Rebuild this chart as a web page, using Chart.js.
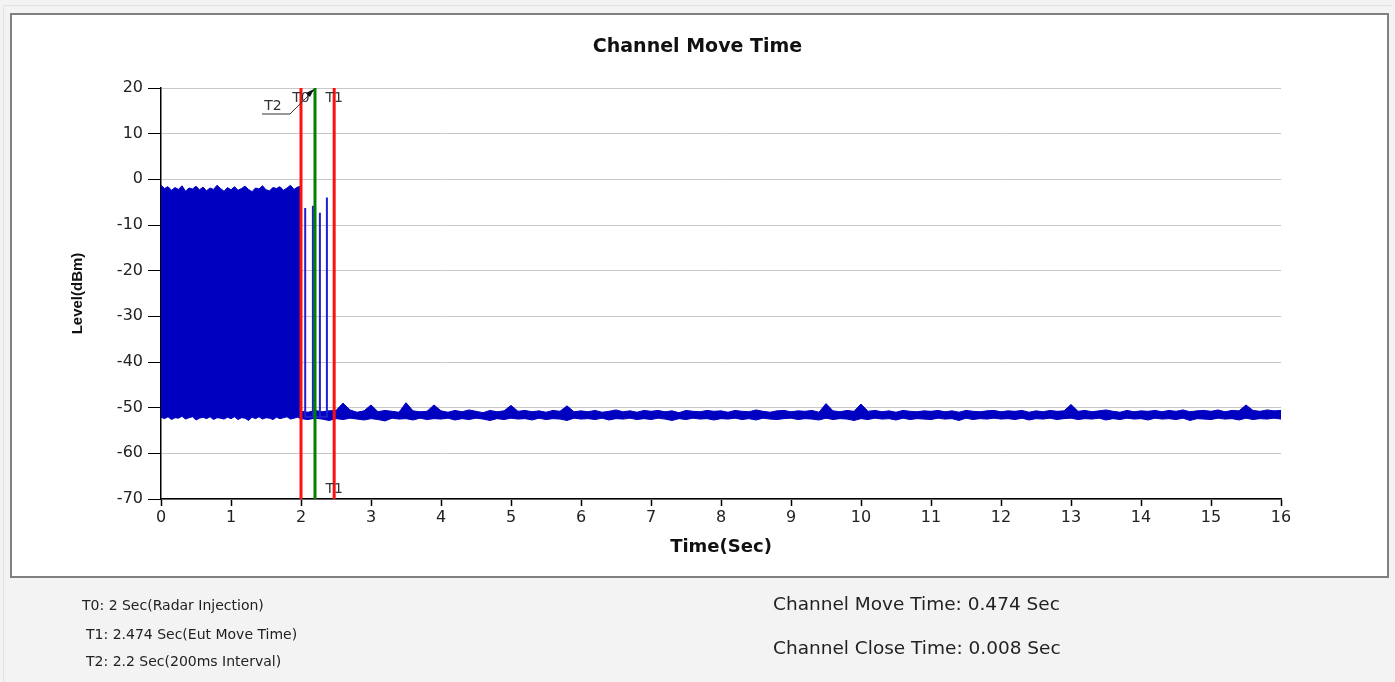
<!DOCTYPE html>
<html>

<head>
    <title>Channel Move Time</title>
    <script src="https://cdn.jsdelivr.net/npm/chart.js"></script>
    <style>
        body { margin: 0; background: #f3f3f3; font-family: "DejaVu Sans", sans-serif; }
        .page { position: relative; width: 1395px; height: 682px; overflow: hidden; }
        .frame { position: absolute; left: 3px; top: 5px; width: 1388px; height: 676px; border-left: 1px solid #e2e2e2; border-top: 1px solid #e2e2e2; }
        .box { position: absolute; left: 10px; top: 13px; width: 1379px; height: 565px; box-sizing: border-box; border: 2px solid #808080; background: #fff; }
        .wrap { position: absolute; left: 0; top: 0; width: 1395px; height: 682px; }
        .note { position: absolute; color: #222; white-space: nowrap; font-size: 14px; line-height: 20px; }
        .big { font-size: 18.5px; line-height: 24px; }
    </style>
</head>

<body>
    <div class="page">
        <div class="frame"></div>
        <div class="box"></div>
        <div class="wrap"><canvas id="chart"></canvas></div>
        <div class="note" style="left:82px; top:595px;">T0: 2 Sec(Radar Injection)</div>
        <div class="note" style="left:86px; top:624px;">T1: 2.474 Sec(Eut Move Time)</div>
        <div class="note" style="left:86px; top:651px;">T2: 2.2 Sec(200ms Interval)</div>
        <div class="note big" style="left:773px; top:592px;">Channel Move Time: 0.474 Sec</div>
        <div class="note big" style="left:773px; top:636px;">Channel Close Time: 0.008 Sec</div>
    </div>
    <script>
        // burst while radar is on (0 - 2 s): top / bottom of the trace
        var burstTime = [0, 0.05, 0.1, 0.15, 0.2, 0.25, 0.3, 0.35, 0.4, 0.45, 0.5, 0.55, 0.6, 0.65, 0.7, 0.75, 0.8, 0.85, 0.9, 0.95,
            1, 1.05, 1.1, 1.15, 1.2, 1.25, 1.3, 1.35, 1.4, 1.45, 1.5, 1.55, 1.6, 1.65, 1.7, 1.75, 1.8, 1.85, 1.9, 1.95, 2];
        var burstTop = [-1.3, -2.0, -1.6, -2.4, -1.8, -2.2, -1.4, -2.6, -1.9, -2.1, -1.5, -2.3, -1.7, -2.5, -1.9, -2.2, -1.3, -2.0, -2.6, -1.8,
            -2.3, -1.6, -2.4, -2.0, -1.5, -2.2, -2.7, -1.9, -2.1, -1.4, -2.3, -2.5, -1.8, -2.0, -1.6, -2.4, -1.9, -1.3, -2.2, -1.7, -1.5];
        var burstBottom = [-52.1, -52.4, -52.0, -52.6, -52.2, -52.3, -51.9, -52.5, -52.2, -52.0, -52.7, -52.3, -52.1, -52.4, -52.0, -52.6, -52.2, -52.3, -52.5, -52.1,
            -52.4, -52.0, -52.6, -52.2, -52.3, -52.8, -52.1, -52.4, -52.0, -52.5, -52.2, -52.3, -52.6, -52.1, -52.4, -52.2, -52.0, -52.5, -52.3, -52.1, -52.4];

        // noise floor after the radar (2 - 16 s)
        var noiseTime = [2, 2.1, 2.2, 2.3, 2.4, 2.5, 2.6, 2.7, 2.8, 2.9, 3, 3.1, 3.2, 3.3, 3.4, 3.5, 3.6, 3.7, 3.8, 3.9,
            4, 4.1, 4.2, 4.3, 4.4, 4.5, 4.6, 4.7, 4.8, 4.9, 5, 5.1, 5.2, 5.3, 5.4, 5.5, 5.6, 5.7, 5.8, 5.9,
            6, 6.1, 6.2, 6.3, 6.4, 6.5, 6.6, 6.7, 6.8, 6.9, 7, 7.1, 7.2, 7.3, 7.4, 7.5, 7.6, 7.7, 7.8, 7.9,
            8, 8.1, 8.2, 8.3, 8.4, 8.5, 8.6, 8.7, 8.8, 8.9, 9, 9.1, 9.2, 9.3, 9.4, 9.5, 9.6, 9.7, 9.8, 9.9,
            10, 10.1, 10.2, 10.3, 10.4, 10.5, 10.6, 10.7, 10.8, 10.9, 11, 11.1, 11.2, 11.3, 11.4, 11.5, 11.6, 11.7, 11.8, 11.9,
            12, 12.1, 12.2, 12.3, 12.4, 12.5, 12.6, 12.7, 12.8, 12.9, 13, 13.1, 13.2, 13.3, 13.4, 13.5, 13.6, 13.7, 13.8, 13.9,
            14, 14.1, 14.2, 14.3, 14.4, 14.5, 14.6, 14.7, 14.8, 14.9, 15, 15.1, 15.2, 15.3, 15.4, 15.5, 15.6, 15.7, 15.8, 15.9, 16];
        var noiseTop = [-50.8, -51.0, -50.6, -50.9, -50.7, -50.6, -49.0, -50.5, -51.0, -50.7,
            -49.4, -50.9, -50.6, -50.8, -51.0, -48.9, -50.7, -50.9, -50.8, -49.4,
            -50.7, -51.0, -50.6, -50.9, -50.5, -50.8, -51.1, -50.6, -50.9, -50.7,
            -49.5, -50.8, -50.6, -50.9, -50.7, -51.0, -50.6, -50.8, -49.6, -50.9,
            -50.7, -50.9, -50.6, -51.0, -50.8, -50.5, -50.9, -50.7, -51.0, -50.6,
            -50.8, -50.6, -50.9, -50.7, -51.1, -50.6, -50.8, -50.9, -50.6, -50.8,
            -50.7, -51.0, -50.6, -50.8, -50.9, -50.5, -50.8, -51.0, -50.7, -50.6,
            -50.9, -50.7, -50.8, -50.6, -51.0, -49.1, -50.7, -50.9, -50.6, -50.8,
            -49.2, -50.8, -50.6, -50.9, -50.7, -51.0, -50.6, -50.8, -50.9, -50.7,
            -50.8, -50.6, -50.9, -50.7, -51.0, -50.6, -50.8, -50.9, -50.7, -50.6,
            -50.9, -50.7, -50.8, -50.6, -51.0, -50.7, -50.9, -50.6, -50.8, -50.7,
            -49.3, -50.8, -50.6, -50.9, -50.7, -50.5, -50.8, -51.0, -50.6, -50.9,
            -50.7, -50.8, -50.6, -50.9, -50.6, -50.8, -50.5, -50.9, -50.7, -50.6,
            -50.8, -50.5, -50.9, -50.6, -50.7, -49.4, -50.6, -50.8, -50.5, -50.7, -50.6];
        var noiseBottom = [-52.4, -52.6, -52.3, -52.5, -52.8, -52.4, -52.6, -52.3, -52.5, -52.7,
            -52.4, -52.6, -52.9, -52.3, -52.5, -52.4, -52.7, -52.3, -52.6, -52.4,
            -52.5, -52.3, -52.7, -52.4, -52.6, -52.3, -52.5, -52.8, -52.4, -52.6,
            -52.3, -52.5, -52.4, -52.7, -52.3, -52.6, -52.4, -52.5, -52.8, -52.3,
            -52.5, -52.4, -52.6, -52.3, -52.7, -52.4, -52.5, -52.3, -52.6, -52.4,
            -52.6, -52.3, -52.5, -52.8, -52.4, -52.6, -52.3, -52.5, -52.4, -52.7,
            -52.4, -52.5, -52.3, -52.6, -52.4, -52.7, -52.3, -52.5, -52.6, -52.4,
            -52.3, -52.6, -52.4, -52.5, -52.7, -52.3, -52.6, -52.4, -52.5, -52.8,
            -52.4, -52.6, -52.3, -52.5, -52.4, -52.7, -52.3, -52.6, -52.4, -52.5,
            -52.6, -52.3, -52.5, -52.4, -52.8, -52.3, -52.6, -52.4, -52.5, -52.3,
            -52.5, -52.4, -52.6, -52.3, -52.7, -52.4, -52.5, -52.3, -52.6, -52.4,
            -52.3, -52.6, -52.4, -52.5, -52.3, -52.7, -52.4, -52.6, -52.3, -52.5,
            -52.4, -52.7, -52.3, -52.5, -52.4, -52.6, -52.3, -52.8, -52.4, -52.5,
            -52.6, -52.3, -52.5, -52.4, -52.7, -52.3, -52.6, -52.4, -52.5, -52.3, -52.5];

        // short bursts seen between T0 and T1
        var spikeTime = [2.06, 2.17, 2.27, 2.37];
        var spikeLevel = [-6.3, -5.8, -7.3, -4.0];
        var spikeBase = -52;

        // markers
        var markerName = ["T0", "T1", "T2"];
        var markerTime = [2, 2.474, 2.2];
        var markerColor = ["#ff1010", "#ff1010", "#008000"];

        var xTicks = [0, 1, 2, 3, 4, 5, 6, 7, 8, 9, 10, 11, 12, 13, 14, 15, 16];
        var yTicks = [-70, -60, -50, -40, -30, -20, -10, 0, 10, 20];

        var blue = "#0000c0";

        function pts(xs, ys) {
            return xs.map(function (x, i) { return { x: x, y: ys[i] }; });
        }

        var spikePts = [];
        spikeTime.forEach(function (t, i) {
            spikePts.push({ x: t, y: spikeBase });
            spikePts.push({ x: t, y: spikeLevel[i] });
            spikePts.push({ x: t, y: spikeBase });
        });

        var datasets = [];
        markerTime.forEach(function (t, i) {
            datasets.push({
                label: markerName[i],
                data: [{ x: t, y: yTicks[0] }, { x: t, y: yTicks[yTicks.length - 1] }],
                borderColor: markerColor[i],
                borderWidth: 3,
                order: 0
            });
        });
        datasets.push({ label: "burst top", data: pts(burstTime, burstTop), borderColor: blue, backgroundColor: blue, borderWidth: 1, fill: "+1", order: 2 });
        datasets.push({ label: "burst bottom", data: pts(burstTime, burstBottom), borderColor: blue, borderWidth: 1, fill: false, order: 2 });
        datasets.push({ label: "noise top", data: pts(noiseTime, noiseTop), borderColor: blue, backgroundColor: blue, borderWidth: 1, fill: "+1", order: 2 });
        datasets.push({ label: "noise bottom", data: pts(noiseTime, noiseBottom), borderColor: blue, borderWidth: 1, fill: false, order: 2 });
        datasets.push({ label: "spikes", data: spikePts, borderColor: "#2020d0", borderWidth: 2, fill: false, order: 1 });

        // T0 / T1 / T2 text next to the marker lines
        var markerText = {
            id: "markerText",
            afterDatasetsDraw: function (chart) {
                var ctx = chart.ctx, xs = chart.scales.x, ys = chart.scales.y;
                var top = ys.getPixelForValue(yTicks[yTicks.length - 1]);
                var bottom = ys.getPixelForValue(yTicks[0]);
                var x0 = xs.getPixelForValue(markerTime[0]);
                var x1 = xs.getPixelForValue(markerTime[1]);
                var x2 = xs.getPixelForValue(markerTime[2]);
                ctx.save();
                ctx.font = '14px "DejaVu Sans"';
                ctx.fillStyle = "#333";
                ctx.textAlign = "center";
                ctx.textBaseline = "middle";
                ctx.fillText(markerName[0], x0, top + 10);
                ctx.fillText(markerName[1], x1, top + 10);
                ctx.fillText(markerName[1], x1, bottom - 10);
                ctx.fillText(markerName[2], x2 - 42, top + 18);
                ctx.strokeStyle = "#333";
                ctx.lineWidth = 1;
                ctx.beginPath();
                ctx.moveTo(x2 - 53, top + 26);
                ctx.lineTo(x2 - 25, top + 26);
                ctx.lineTo(x2 - 1, top + 2);
                ctx.stroke();
                ctx.fillStyle = "#111";
                ctx.beginPath();
                ctx.moveTo(x2 - 1, top + 1);
                ctx.lineTo(x2 - 9, top + 5);
                ctx.lineTo(x2 - 5, top + 9);
                ctx.closePath();
                ctx.fill();
                ctx.restore();
            }
        };

        new Chart(document.getElementById("chart"), {
            type: "line",
            data: { datasets: datasets },
            plugins: [markerText],
            options: {
                responsive: true,
                maintainAspectRatio: false,
                animation: false,
                elements: { point: { radius: 0 }, line: { tension: 0 } },
                layout: { padding: { left: 0, right: 0, top: 0, bottom: 113 } },
                plugins: {
                    legend: { display: false },
                    tooltip: { enabled: false },
                    title: {
                        display: true,
                        text: "Channel Move Time",
                        color: "#111",
                        font: { family: "DejaVu Sans", size: 19, weight: "bold" },
                        padding: { top: 35.6, bottom: 29.6 }
                    }
                },
                scales: {
                    x: {
                        type: "linear",
                        min: 0,
                        max: 16,
                        afterBuildTicks: function (s) { s.ticks = xTicks.map(function (v) { return { value: v }; }); },
                        afterFit: function (s) { s.height = 70; },
                        ticks: { color: "#222", padding: 2, font: { family: "DejaVu Sans", size: 16 } },
                        grid: { drawOnChartArea: false, tickLength: 7, tickColor: "#000", tickWidth: 1.5 },
                        border: { color: "#000", width: 1.5 },
                        title: {
                            display: true, text: "Time(Sec)", color: "#111",
                            font: { family: "DejaVu Sans", size: 18, weight: "bold" },
                            padding: { top: 0, bottom: 11.2 }
                        }
                    },
                    y: {
                        type: "linear",
                        min: -70,
                        max: 20,
                        afterBuildTicks: function (s) { s.ticks = yTicks.map(function (v) { return { value: v }; }); },
                        afterFit: function (s) { s.width = 161; },
                        ticks: { color: "#222", padding: 5, font: { family: "DejaVu Sans", size: 16 } },
                        grid: { color: "#c8c8c8", tickLength: 13, tickColor: "#000", lineWidth: 1 },
                        border: { color: "#000", width: 1.5 },
                        title: {
                            display: true, text: "Level(dBm)", color: "#111",
                            font: { family: "Liberation Sans", size: 15, weight: "bold" },
                            padding: { top: 69, bottom: 0 }
                        }
                    },
                    yRight: {
                        type: "linear",
                        position: "right",
                        display: true,
                        afterFit: function (s) { s.width = 114; },
                        ticks: { display: false },
                        grid: { display: false },
                        border: { display: false }
                    }
                }
            }
        });
    </script>
</body>

</html>
